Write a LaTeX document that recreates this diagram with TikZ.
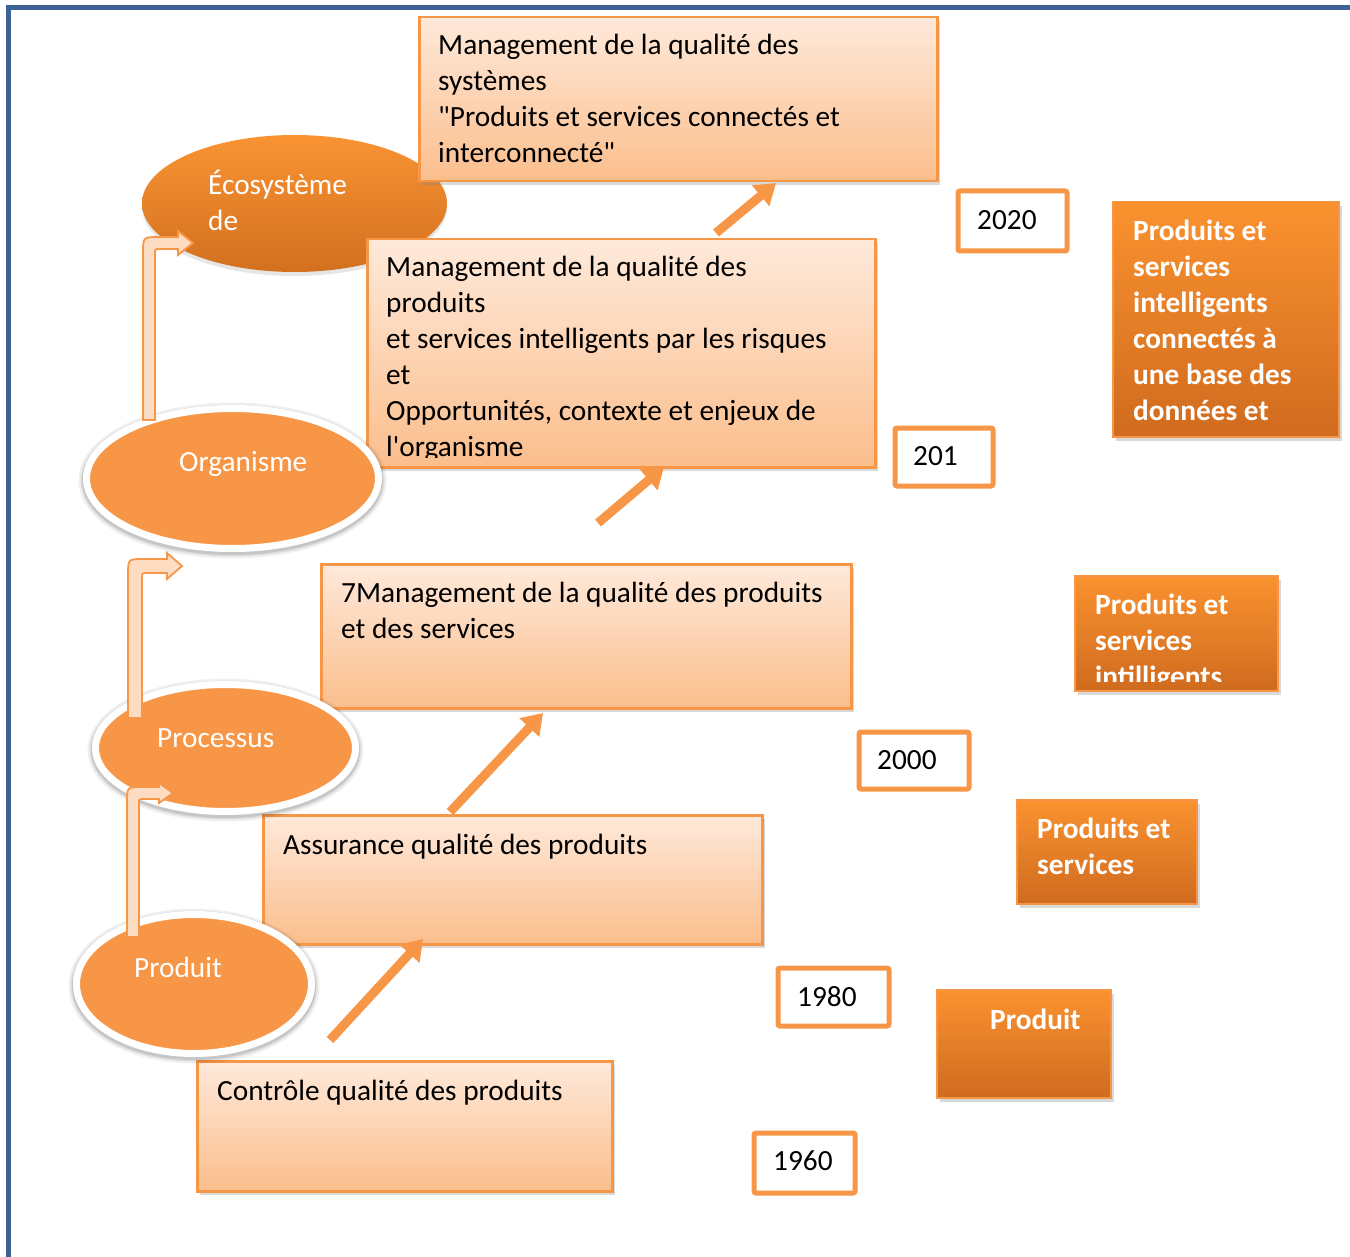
\documentclass[tikz,border=0pt]{standalone}
\usepackage{fontspec}
\setmainfont{Carlito}
\usetikzlibrary{shapes.geometric,shadows,arrows.meta}
\definecolor{orbord}{HTML}{F79646}
\definecolor{peachT}{HTML}{FEE9DA}
\definecolor{peachB}{HTML}{FBBE8C}
\definecolor{darkT}{HTML}{FA922F}
\definecolor{darkB}{HTML}{D06B1F}
\definecolor{ellfill}{HTML}{F79646}
\definecolor{ecoT}{HTML}{F99333}
\definecolor{ecoB}{HTML}{D2701F}
\definecolor{framecol}{HTML}{3D6194}
\definecolor{bentfill}{HTML}{FDDCC2}
\newcommand{\tl}[1]{\parbox[t]{700pt}{\raggedright #1}}
\newcommand{\bentarr}[9]{% x0 yb yt xt h H L R r
  \filldraw[bentstyle] ({#1-#5},#2) -- ({#1-#5},{#3-#5+#8}) .. controls ({#1-#5},{#3-#5}) .. ({#1-#5+#8},{#3-#5})
    -- ({#4-#7},{#3-#5}) -- ({#4-#7},{#3-#6}) -- (#4,#3) -- ({#4-#7},{#3+#6}) -- ({#4-#7},{#3+#5})
    -- ({#1+#5+#9},{#3+#5}) .. controls ({#1+#5},{#3+#5}) .. ({#1+#5},{#3+#5+#9}) -- ({#1+#5},#2) -- cycle;}
\begin{document}
\begin{tikzpicture}[x=1pt,y=-1pt,
  txt/.style={inner sep=0pt, anchor=base west, yshift=-2pt, font=\fontsize{29.3}{36}\selectfont},
  wtxt/.style={txt, text=white},
  btxt/.style={txt, text=white, font=\fontsize{29.3}{36}\selectfont\bfseries},
  lbox/.style={rectangle, anchor=north west, inner sep=0pt, draw=orbord, line width=2.5pt,
     top color=peachT, bottom color=peachB,
     drop shadow={shadow xshift=3pt, shadow yshift=-4pt, opacity=0.3}},
  dbox/.style={rectangle, anchor=north west, inner sep=0pt, draw=orbord, line width=1.5pt,
     top color=darkT, bottom color=darkB,
     drop shadow={shadow xshift=3pt, shadow yshift=-4pt, opacity=0.3}},
  ybox/.style={rectangle, anchor=north west, inner sep=0pt, draw=orbord, line width=5pt,
     fill=white, rounded corners=2pt},
  ell/.style={ellipse, inner sep=0pt, draw=white, line width=7pt, fill=ellfill,
     preaction={draw=black, draw opacity=0.06, line width=16pt, transform canvas={yshift=-2pt}},
     preaction={draw=black, draw opacity=0.08, line width=12pt, transform canvas={yshift=-2pt}},
     preaction={draw=black, draw opacity=0.10, line width=9pt, transform canvas={yshift=-2pt}}},
  ecoell/.style={ellipse, inner sep=0pt, top color=ecoT, bottom color=ecoB,
     drop shadow={shadow xshift=0pt, shadow yshift=-4pt, opacity=0.2}},
  bentstyle/.style={draw=orbord, line width=1.8pt, fill=bentfill},
  sarrow/.style={draw=orbord, line width=9pt, -{Triangle[length=20pt,width=26pt]}}
]
\useasboundingbox (0,0) rectangle (1350,1257);
% frame
\draw[framecol, line width=5pt] (8.5,1260) -- (8.5,7.5) -- (1352,7.5);

% ecosysteme ellipse (behind boxes)
\node[ecoell, minimum width=305pt, minimum height=137pt] (eco) at (294.5,203.5) {};
\node[wtxt] (ecot) at (208,193) {\tl{Écosystème\\de}};

% light boxes
\node[lbox, minimum width=518pt, minimum height=164pt] (bA) at (418,16) {};
\node[txt] (bAt) at (438,53) {\tl{Management de la qualité des\\systèmes\\\textquotedbl Produits et services connectés et\\interconnecté\textquotedbl}};
\node[lbox, minimum width=508pt, minimum height=228pt] (bB) at (366,238) {};
\begin{scope}
\clip (366,238) rectangle (874,457);
\node[txt] (bBt) at (386,275) {\tl{Management de la qualité des\\produits\\et services intelligents par les risques\\et\\Opportunités, contexte et enjeux de\\l\textquotesingle organisme}};
\end{scope}
\node[lbox, minimum width=530pt, minimum height=144pt] (bC) at (320,563) {};
\node[txt] (bCt) at (341,600) {\tl{7Management de la qualité des produits\\et des services}};
\node[lbox, minimum width=499pt, minimum height=129pt] (bD) at (262,814) {};
\node[txt] (bDt) at (283,852) {Assurance qualité des produits};
\node[lbox, minimum width=415pt, minimum height=130pt] (bE) at (196,1060) {};
\node[txt] (bEt) at (217,1098) {Contrôle qualité des produits};

% year boxes
\node[ybox, minimum width=109pt, minimum height=60pt] (y1) at (955.5,188.5) {};
\node[txt] (y1t) at (977,228) {2020};
\node[ybox, minimum width=98pt, minimum height=58pt] (y2) at (892.5,425.5) {};
\node[txt] (y2t) at (913,463) {201};
\node[ybox, minimum width=110pt, minimum height=57pt] (y3) at (856.5,729.5) {};
\node[txt] (y3t) at (877,767) {2000};
\node[ybox, minimum width=111pt, minimum height=58pt] (y4) at (775.5,965.5) {};
\node[txt] (y4t) at (797,1004) {1980};
\node[ybox, minimum width=101pt, minimum height=60pt] (y5) at (751.5,1130.5) {};
\node[txt] (y5t) at (773,1168) {1960};

% dark boxes
\node[dbox, minimum width=226pt, minimum height=235pt] (d1) at (1112,201) {};
\node[btxt] (d1t) at (1133,239) {\tl{Produits et\\services\\intelligents\\connectés à\\une base des\\données et}};
\node[dbox, minimum width=203pt, minimum height=115pt] (d2) at (1074,575) {};
\begin{scope}
\clip (1074,575) rectangle (1277,681);
\node[btxt] (d2t) at (1095,612) {\tl{Produits et\\services\\intilligents}};
\end{scope}
\node[dbox, minimum width=180pt, minimum height=104pt] (d3) at (1016,799) {};
\node[btxt] (d3t) at (1037,836) {\tl{Produits et\\services}};
\node[dbox, minimum width=174pt, minimum height=108pt] (d4) at (936,989) {};
\node[btxt] (d4t) at (990,1027) {Produit};

% ellipses with white ring
\node[ell, minimum width=292pt, minimum height=140pt] (org) at (232.5,478.5) {};
\node[wtxt] (orgt) at (179,469) {Organisme};
\node[ell, minimum width=260pt, minimum height=127pt] (proc) at (225.5,748) {};
\node[wtxt] (proct) at (157,745) {Processus};
\node[ell, minimum width=235pt, minimum height=139pt] (prod) at (194,984) {};
\node[wtxt] (prodt) at (134,975) {Produit};

% bent arrows
\bentarr{149}{420}{243}{193}{6}{12}{15}{16}{5}
\bentarr{135}{718}{566}{182}{7}{13}{15}{16}{5}
\bentarr{133}{937}{793}{173}{6}{10}{14}{15}{5}

% straight arrows
\coordinate (a1s) at (716,233); \coordinate (a1e) at (776,183);
\coordinate (a2s) at (598,523); \coordinate (a2e) at (664,467);
\coordinate (a3s) at (450,812); \coordinate (a3e) at (543,713);
\coordinate (a4s) at (330,1040); \coordinate (a4e) at (423,939);
\draw[sarrow] (a1s) -- (a1e);
\draw[sarrow] (a2s) -- (a2e);
\draw[sarrow] (a3s) -- (a3e);
\draw[sarrow] (a4s) -- (a4e);
\end{tikzpicture}
\end{document}
